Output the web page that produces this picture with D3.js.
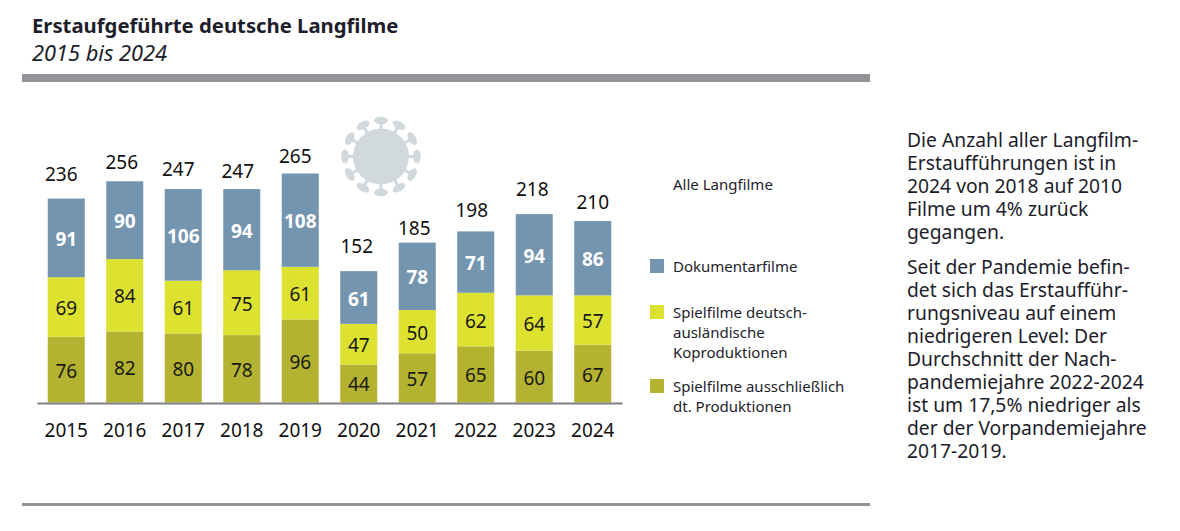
<!DOCTYPE html>
<html>
<head>
<meta charset="utf-8">
<script src="https://cdn.jsdelivr.net/npm/d3@7"></script>
<style>
  html, body { margin: 0; padding: 0; background: #fff; }
  svg { display: block; }
  text { font-family: "Noto Sans", sans-serif; fill: #1d1d2b; }
</style>
</head>
<body>
<svg id="chart" width="1180" height="531"></svg>
<script>
// データ
const years = ["2015", "2016", "2017", "2018", "2019", "2020", "2021", "2022", "2023", "2024"];
const spielDt = [76, 82, 80, 78, 96, 44, 57, 65, 60, 67];
const koprod = [69, 84, 61, 75, 61, 47, 50, 62, 64, 57];
const doku = [91, 90, 106, 94, 108, 61, 78, 71, 94, 86];
const totals = [236, 256, 247, 247, 265, 152, 185, 198, 218, 210];

const seriesKeys = ["spielDt", "koprod", "doku"];
const seriesColors = ["#b3b331", "#dde230", "#7495b0"];
const legendAll = "Alle Langfilme";
const legendItems = [
  { color: "#7495b0", lines: ["Dokumentarfilme"], y: 267 },
  { color: "#dde230", lines: ["Spielfilme deutsch-", "ausländische", "Koproduktionen"], y: 313 },
  { color: "#b3b331", lines: ["Spielfilme ausschließlich", "dt. Produktionen"], y: 387 }
];
const noteOne = ["Die Anzahl aller Langfilm-", "Erstaufführungen ist in", "2024 von 2018 auf 2010", "Filme um 4% zurück", "gegangen."];
const noteTwo = ["Seit der Pandemie befin-", "det sich das Erstaufführ-", "rungsniveau auf einem", "niedrigeren Level: Der", "Durchschnitt der Nach-", "pandemiejahre 2022-2024", "ist um 17,5% niedriger als", "der der Vorpandemiejahre", "2017-2019."];

// 合計ラベルは手置きなので棒ごとにずらす
const totalNudgeX = [-5, -3, -5, -4, -5, -2, -3, -4, -2, 0];
const totalGap = [18, 12, 13, 11, 11, 18, 8, 14, 18, 12];

const svg = d3.select("#chart");

// 複数行テキスト
function multiline(px, py, lines, size, lineHeight) {
  const t = svg.append("text").attr("x", px).attr("y", py).attr("font-size", size);
  lines.forEach((line, i) => {
    t.append("tspan").attr("x", px).attr("dy", i === 0 ? 0 : lineHeight).text(line);
  });
}

// タイトル
svg.append("text").attr("x", 32).attr("y", 33)
  .attr("font-size", "20.3px").attr("font-weight", 700)
  .text("Erstaufgeführte deutsche Langfilme");
svg.append("text").attr("x", 32).attr("y", 61)
  .attr("font-size", "21.8px").attr("font-style", "italic")
  .text("2015 bis 2024");

// 罫線
svg.append("rect").attr("x", 22).attr("y", 74).attr("width", 848).attr("height", 8).attr("fill", "#949498");
svg.append("rect").attr("x", 22).attr("y", 503).attr("width", 848).attr("height", 3).attr("fill", "#949498");

// スケール
const x = d3.scaleBand().domain(years).range([37, 622]).paddingInner(0.367).paddingOuter(0.1835);
const y = d3.scaleLinear().domain([0, 265]).range([402.5, 173.5]);

const rows = years.map((year, i) => ({ year, spielDt: spielDt[i], koprod: koprod[i], doku: doku[i], total: totals[i], nudge: totalNudgeX[i], gap: totalGap[i] }));
const stacked = d3.stack().keys(seriesKeys)(rows);

// コロナウイルスのアイコン
const virus = svg.append("g").attr("transform", "translate(381,156.5)").attr("fill", "#d2d9dd");
virus.append("circle").attr("r", 28);
d3.range(12).forEach(i => {
  const spike = virus.append("g").attr("transform", `rotate(${i * 30})`);
  spike.append("rect").attr("x", -1.5).attr("y", -35).attr("width", 3).attr("height", 9);
  spike.append("ellipse").attr("cy", -36).attr("rx", 7).attr("ry", 3.8);
});

// 棒
const layer = svg.selectAll("g.layer")
  .data(stacked)
  .enter()
  .append("g")
  .attr("class", "layer")
  .attr("fill", (d, i) => seriesColors[i]);

layer.selectAll("rect")
  .data(d => d)
  .enter()
  .append("rect")
  .attr("x", d => x(d.data.year))
  .attr("y", d => y(d[1]))
  .attr("width", x.bandwidth())
  .attr("height", d => y(d[0]) - y(d[1]));

// 棒の中の数値
layer.selectAll("text")
  .data(d => d.map(p => ({ p, key: d.key })))
  .enter()
  .append("text")
  .attr("x", d => x(d.p.data.year) + x.bandwidth() / 2)
  .attr("y", d => (y(d.p[0]) + y(d.p[1])) / 2 + 8)
  .attr("text-anchor", "middle")
  .attr("font-size", "19px")
  .attr("font-weight", d => d.key === "doku" ? 700 : 400)
  .style("fill", d => d.key === "doku" ? "#fff" : "#1a1a14")
  .text(d => d.p.data[d.key]);

// 合計
svg.selectAll("text.total")
  .data(rows)
  .enter()
  .append("text")
  .attr("class", "total")
  .attr("x", d => x(d.year) + x.bandwidth() / 2 + d.nudge)
  .attr("y", d => y(d.total) - d.gap)
  .attr("text-anchor", "middle")
  .attr("font-size", "19px")
  .style("fill", "#111")
  .text(d => d.total);

// X軸
const axis = svg.append("g").attr("transform", "translate(0,403)")
  .call(d3.axisBottom(x).tickSize(0).tickPadding(21));
axis.select(".domain").attr("stroke", "#808084").attr("stroke-width", 2);
axis.selectAll("text").attr("font-size", "19px")
  .style("font-family", '"Noto Sans", sans-serif').style("fill", "#111");

// 凡例
svg.append("text").attr("x", 673).attr("y", 190).attr("font-size", "15px").text(legendAll);
legendItems.forEach(item => {
  svg.append("rect").attr("x", 650).attr("y", item.y - 8).attr("width", 14).attr("height", 14).attr("fill", item.color);
  multiline(673, item.y + 5, item.lines, "15px", 20);
});

// 本文
multiline(907, 147, noteOne, "19.3px", 23);
multiline(907, 274, noteTwo, "19.3px", 23);
</script>
</body>
</html>
